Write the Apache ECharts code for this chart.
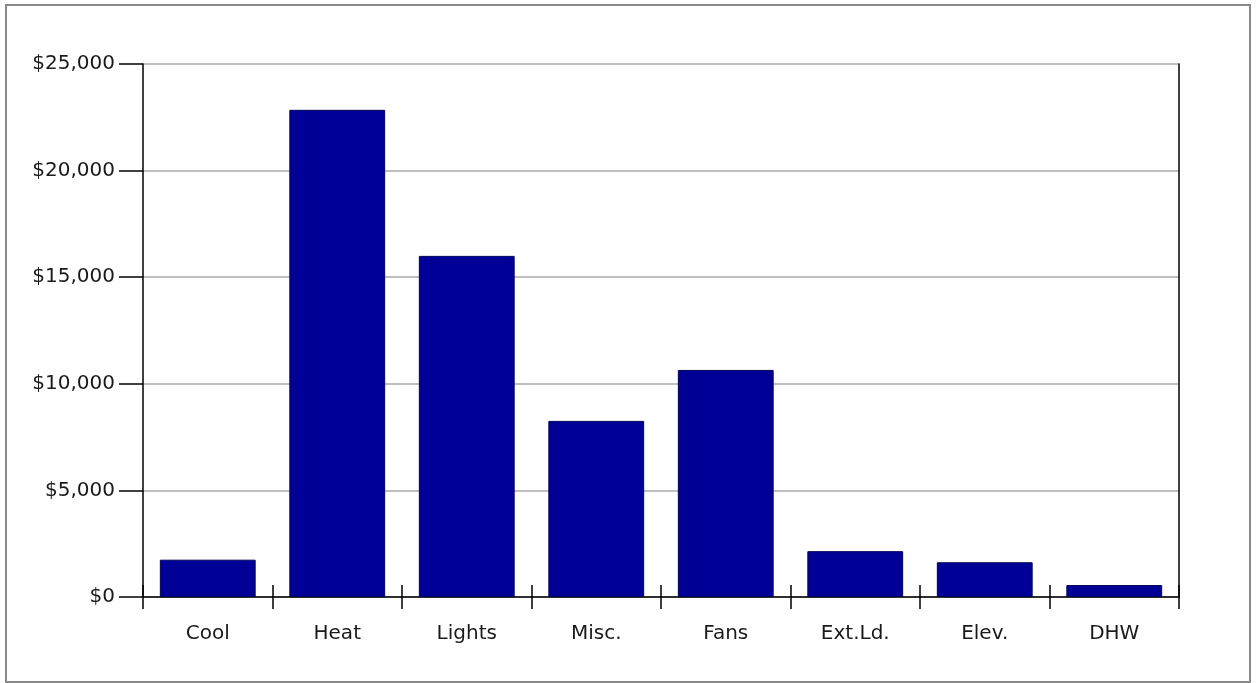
<!DOCTYPE html>
<html>
<head>
<meta charset="utf-8">
<script src="https://cdn.jsdelivr.net/npm/echarts@6/dist/echarts.min.js"></script>
<style>
  html, body { margin: 0; padding: 0; background: #ffffff; }
  #chart { width: 1256px; height: 683px; }
</style>
</head>
<body>
<div id="chart"></div>
<script>
// Annual energy cost by end use
const categories = ['Cool', 'Heat', 'Lights', 'Misc.', 'Fans', 'Ext.Ld.', 'Elev.', 'DHW'];
const costs = [1750, 22850, 16000, 8260, 10650, 2150, 1630, 560];
const yTicks = { min: 0, max: 25000, step: 5000 };

const labelFont = { fontFamily: 'DejaVu Sans', fontSize: 20, color: '#1a1a1a' };

const chart = echarts.init(document.getElementById('chart'), null, { renderer: 'canvas' });

chart.setOption({
  backgroundColor: '#ffffff',
  animation: false,
  graphic: [{
    type: 'rect',
    shape: { x: 6, y: 5, width: 1244, height: 677 },
    style: { fill: 'none', stroke: '#8a8a8a', lineWidth: 2 },
    silent: true
  }],
  grid: { left: 143, right: 77, top: 64, bottom: 86, containLabel: false },
  xAxis: [{
    type: 'category',
    data: categories,
    boundaryGap: true,
    axisLine: { show: true, lineStyle: { color: '#000000', width: 1.5 } },
    axisTick: { show: true, inside: false, length: 12, lineStyle: { color: '#000000', width: 1.5 } },
    axisLabel: Object.assign({ margin: 27 }, labelFont),
    splitLine: { show: false }
  }, {
    type: 'category',
    data: categories,
    position: 'bottom',
    boundaryGap: true,
    axisLine: { show: false },
    axisTick: { show: true, inside: true, length: 12, lineStyle: { color: '#000000', width: 1.5 } },
    axisLabel: { show: false },
    splitLine: { show: false }
  }],
  yAxis: [{
    type: 'value',
    min: yTicks.min,
    max: yTicks.max,
    interval: yTicks.step,
    axisLine: { show: true, lineStyle: { color: '#000000', width: 1.5 } },
    axisTick: { show: true, inside: false, length: 24, lineStyle: { color: '#000000', width: 1.5 } },
    axisLabel: Object.assign({
      margin: 28,
      padding: [6, 0, 0, 0],
      formatter: v => '$' + v.toLocaleString('en-US')
    }, labelFont),
    splitLine: { show: true, lineStyle: { color: '#a8a8a8', width: 1.5 } }
  }, {
    type: 'value',
    position: 'right',
    min: yTicks.min,
    max: yTicks.max,
    interval: yTicks.step,
    axisLine: { show: true, lineStyle: { color: '#000000', width: 1.5 } },
    axisTick: { show: false },
    axisLabel: { show: false },
    splitLine: { show: false }
  }],
  series: [{
    type: 'bar',
    xAxisIndex: 0,
    yAxisIndex: 0,
    data: costs,
    barCategoryGap: '26%',
    itemStyle: { color: '#000096', borderColor: '#00005a', borderWidth: 1 }
  }]
});
</script>
</body>
</html>
